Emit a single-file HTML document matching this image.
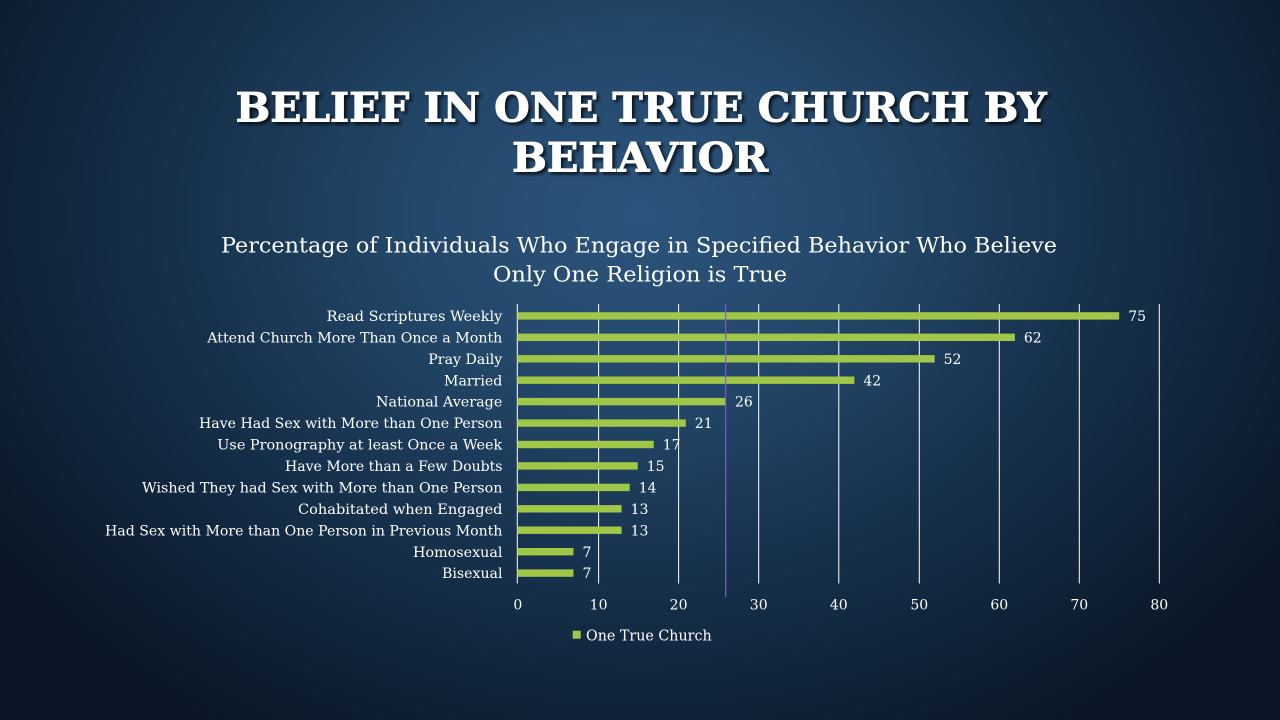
<!DOCTYPE html>
<html>
<head>
<meta charset="utf-8">
<style>
  html,body{margin:0;padding:0;background:#0b1828;}
  body{width:1280px;height:720px;overflow:hidden;}
  svg{display:block;}
  .lbl{font-family:"DejaVu Serif","Liberation Serif",serif;font-size:14px;fill:#ffffff;}
  .tick{font-family:"DejaVu Serif","Liberation Serif",serif;font-size:14px;fill:#ffffff;}
</style>
</head>
<body>
<svg width="1280" height="720" viewBox="0 0 1280 720" xmlns="http://www.w3.org/2000/svg">
  <defs>
    <radialGradient id="bg" gradientUnits="userSpaceOnUse" cx="640" cy="215" r="780" gradientTransform="translate(640 215) scale(1 0.78) translate(-640 -215)">
      <stop offset="0" stop-color="#2c547c"/>
      <stop offset="0.3" stop-color="#234769"/>
      <stop offset="0.6" stop-color="#16304b"/>
      <stop offset="0.85" stop-color="#0e2034"/>
      <stop offset="1" stop-color="#0a1625"/>
    </radialGradient>
    <filter id="sh" x="-5%" y="-20%" width="110%" height="150%">
      <feDropShadow dx="2.5" dy="2.5" stdDeviation="1.5" flood-color="#000000" flood-opacity="0.75"/>
    </filter>
  </defs>

  <rect x="0" y="0" width="1280" height="720" fill="url(#bg)"/>

  <!-- Title -->
  <g filter="url(#sh)" font-family="'DejaVu Serif','Liberation Serif',serif" font-weight="bold" font-size="40" fill="#ffffff" stroke="#ffffff" stroke-width="0.9">
    <text x="235.7" y="121.7" textLength="811" lengthAdjust="spacingAndGlyphs">BELIEF IN ONE TRUE CHURCH BY</text>
    <text x="512" y="171.5" textLength="256" lengthAdjust="spacingAndGlyphs">BEHAVIOR</text>
  </g>

  <!-- Chart subtitle -->
  <g font-family="'DejaVu Serif','Liberation Serif',serif" font-size="21" fill="#ffffff">
    <text x="221" y="252.3" textLength="836" lengthAdjust="spacingAndGlyphs">Percentage of Individuals Who Engage in Specified Behavior Who Believe</text>
    <text x="493" y="281.5" textLength="294" lengthAdjust="spacingAndGlyphs">Only One Religion is True</text>
  </g>

  <!-- Gridlines -->
  <g stroke="#ffffff" stroke-width="1">
    <line x1="517.3" y1="304" x2="517.3" y2="583.5"/>
    <line x1="598.6" y1="304" x2="598.6" y2="583.5"/>
    <line x1="678.6" y1="304" x2="678.6" y2="583.5"/>
    <line x1="758.7" y1="304" x2="758.7" y2="583.5"/>
    <line x1="838.8" y1="304" x2="838.8" y2="583.5"/>
    <line x1="919.3" y1="304" x2="919.3" y2="583.5"/>
    <line x1="999.3" y1="304" x2="999.3" y2="583.5"/>
    <line x1="1079.3" y1="304" x2="1079.3" y2="583.5"/>
    <line x1="1159.3" y1="304" x2="1159.3" y2="583.5"/>
  </g>

  <!-- Bars -->
  <g fill="#a1c748">
    <rect x="517.3" y="312.2" width="601.9" height="7.4"/>
    <rect x="517.3" y="333.6" width="497.6" height="7.4"/>
    <rect x="517.3" y="355.1" width="417.3" height="7.4"/>
    <rect x="517.3" y="376.5" width="337.1" height="7.4"/>
    <rect x="517.3" y="397.9" width="208.7" height="7.4"/>
    <rect x="517.3" y="419.4" width="168.5" height="7.4"/>
    <rect x="517.3" y="440.8" width="136.4" height="7.4"/>
    <rect x="517.3" y="462.2" width="120.4" height="7.4"/>
    <rect x="517.3" y="483.7" width="112.4" height="7.4"/>
    <rect x="517.3" y="505.1" width="104.3" height="7.4"/>
    <rect x="517.3" y="526.5" width="104.3" height="7.4"/>
    <rect x="517.3" y="548.0" width="56.2" height="7.4"/>
    <rect x="517.3" y="569.4" width="56.2" height="7.4"/>
  </g>

  <!-- National average line -->
  <line x1="725.7" y1="304" x2="725.7" y2="597" stroke="#7d5fc8" stroke-width="1.2"/>

  <!-- Value labels -->
  <g class="lbl">
    <text x="1128.2" y="321">75</text>
    <text x="1023.9" y="342.4">62</text>
    <text x="943.6" y="363.9">52</text>
    <text x="863.4" y="385.3">42</text>
    <text x="735" y="406.7">26</text>
    <text x="694.8" y="428.2">21</text>
    <text x="662.7" y="449.6">17</text>
    <text x="646.7" y="471">15</text>
    <text x="638.7" y="492.5">14</text>
    <text x="630.6" y="513.9">13</text>
    <text x="630.6" y="535.3">13</text>
    <text x="582.5" y="556.8">7</text>
    <text x="582.5" y="578.2">7</text>
  </g>

  <!-- Category labels -->
  <g class="lbl">
    <text x="326.7" y="321" textLength="175.6" lengthAdjust="spacingAndGlyphs">Read Scriptures Weekly</text>
    <text x="207.3" y="342.4" textLength="295" lengthAdjust="spacingAndGlyphs">Attend Church More Than Once a Month</text>
    <text x="428.3" y="363.9" textLength="74" lengthAdjust="spacingAndGlyphs">Pray Daily</text>
    <text x="444" y="385.3" textLength="58.3" lengthAdjust="spacingAndGlyphs">Married</text>
    <text x="376" y="406.7" textLength="126.3" lengthAdjust="spacingAndGlyphs">National Average</text>
    <text x="199" y="428.2" textLength="303.3" lengthAdjust="spacingAndGlyphs">Have Had Sex with More than One Person</text>
    <text x="217.3" y="449.6" textLength="285" lengthAdjust="spacingAndGlyphs">Use Pronography at least Once a Week</text>
    <text x="285" y="471" textLength="217.5" lengthAdjust="spacingAndGlyphs">Have More than a Few Doubts</text>
    <text x="142" y="492.5" textLength="360.5" lengthAdjust="spacingAndGlyphs">Wished They had Sex with More than One Person</text>
    <text x="298" y="513.9" textLength="204.5" lengthAdjust="spacingAndGlyphs">Cohabitated when Engaged</text>
    <text x="105" y="535.3" textLength="397.5" lengthAdjust="spacingAndGlyphs">Had Sex with More than One Person in Previous Month</text>
    <text x="413" y="556.8" textLength="89.5" lengthAdjust="spacingAndGlyphs">Homosexual</text>
    <text x="442" y="578.2" textLength="60.5" lengthAdjust="spacingAndGlyphs">Bisexual</text>
  </g>

  <!-- Axis tick labels -->
  <g class="tick" text-anchor="middle">
    <text x="517.8" y="609.3">0</text>
    <text x="598.6" y="609.3">10</text>
    <text x="678.6" y="609.3">20</text>
    <text x="758.7" y="609.3">30</text>
    <text x="838.8" y="609.3">40</text>
    <text x="919.3" y="609.3">50</text>
    <text x="999.3" y="609.3">60</text>
    <text x="1079.3" y="609.3">70</text>
    <text x="1159.3" y="609.3">80</text>
  </g>

  <!-- Legend -->
  <rect x="572.7" y="630.7" width="8" height="8" fill="#a1c748"/>
  <text x="586" y="640.3" font-family="'DejaVu Serif','Liberation Serif',serif" font-size="15" fill="#ffffff" textLength="125.7" lengthAdjust="spacingAndGlyphs">One True Church</text>
</svg>
</body>
</html>
